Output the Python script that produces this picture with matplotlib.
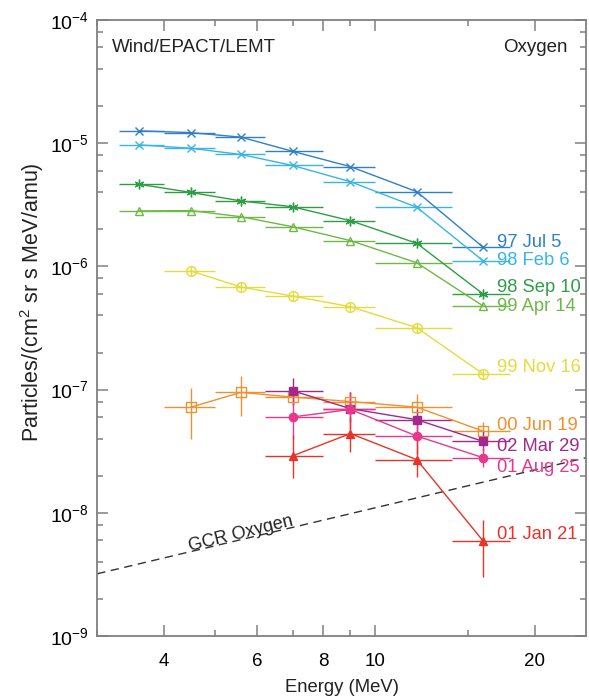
import matplotlib
matplotlib.use("Agg")
import matplotlib.pyplot as plt
import numpy as np
from matplotlib.ticker import FixedLocator, NullFormatter

plt.rcParams['font.family'] = ['Liberation Sans', 'DejaVu Sans']
plt.rcParams['mathtext.fontset'] = 'custom'
plt.rcParams['mathtext.rm'] = 'Liberation Sans'
plt.rcParams['mathtext.it'] = 'Liberation Sans:italic'

# energy bins (MeV)
energy = [3.6, 4.5, 5.6, 7.0, 9.0, 12.0, 16.0]
e_lo = [3.3, 4.0, 5.0, 6.2, 8.0, 10.0, 14.0]
e_hi = [4.0, 5.0, 6.2, 8.0, 10.0, 14.0, 18.0]

# event spectra, particles/(cm2 sr s MeV/amu)
jul97 = [1.26e-5, 1.22e-5, 1.12e-5, 8.6e-6, 6.45e-6, 4.04e-6, 1.43e-6]
feb98 = [9.7e-6, 9.1e-6, 8.1e-6, 6.6e-6, 4.87e-6, 3.02e-6, 1.11e-6]
sep98 = [4.64e-6, 3.99e-6, 3.40e-6, 3.05e-6, 2.35e-6, 1.54e-6, 5.97e-7]
apr99 = [2.82e-6, 2.84e-6, 2.53e-6, 2.10e-6, 1.62e-6, 1.07e-6, 4.77e-7]
nov99 = [9.2e-7, 6.8e-7, 5.75e-7, 4.71e-7, 3.18e-7, 1.34e-7]
jun00 = [7.2e-8, 9.5e-8, 8.7e-8, 8.0e-8, 7.2e-8, 4.6e-8]
jun00_lo = [3.95e-8, 6.1e-8, 7.5e-8, 7.0e-8, 6.0e-8, 3.8e-8]
jun00_hi = [1.03e-7, 1.29e-7, 1.0e-7, 9.5e-8, 9.2e-8, 5.5e-8]
mar02 = [9.8e-8, 7.0e-8, 5.7e-8, 3.8e-8]
mar02_lo = [7.5e-8, 5.5e-8, 4.6e-8, 3.2e-8]
mar02_hi = [1.25e-7, 9.5e-8, 7.0e-8, 4.6e-8]
aug01 = [6.0e-8, 6.9e-8, 4.2e-8, 2.8e-8]
aug01_lo = [4.0e-8, 4.8e-8, 3.0e-8, 2.35e-8]
aug01_hi = [8.5e-8, 9.5e-8, 5.8e-8, 3.4e-8]
jan01 = [2.9e-8, 4.4e-8, 2.7e-8, 5.9e-9]
jan01_lo = [1.9e-8, 3.1e-8, 1.95e-8, 3.0e-9]
jan01_hi = [4.3e-8, 6.0e-8, 3.8e-8, 8.8e-9]

# GCR oxygen reference line
gcr_e = [3.0, 25.0]
gcr_flux = [3.2e-9, 2.8e-8]

labels = ['97 Jul 5', '98 Feb 6', '98 Sep 10', '99 Apr 14', '99 Nov 16',
          '00 Jun 19', '02 Mar 29', '01 Aug 25', '01 Jan 21']
label_y = [1.55e-6, 1.11e-6, 6.8e-7, 4.77e-7, 1.5e-7,
           5.07e-8, 3.48e-8, 2.35e-8, 6.7e-9]
colors = ['#2f80c8', '#38b4e6', '#2e9e45', '#70b845', '#e4dc3c',
          '#f0902e', '#a3288c', '#e6398c', '#e8322a']


def plot_series(ax, start, y, color, marker, mfc, ylo=None, yhi=None, ms=6):
    x = np.array(energy[start:])
    xl = x - np.array(e_lo[start:])
    xh = np.array(e_hi[start:]) - x
    y = np.array(y)
    if ylo is None:
        yerr = None
    else:
        yerr = [y - np.array(ylo), np.array(yhi) - y]
    ax.errorbar(x, y, xerr=[xl, xh], yerr=yerr, color=color, lw=1,
                elinewidth=1, capsize=0, marker=marker, ms=ms,
                mfc=mfc, mec=color, mew=1)


fig = plt.figure(figsize=(5.89, 7.0), dpi=100)
ax = fig.add_axes([0.165, 0.0914, 0.83, 0.8800])

plot_series(ax, 0, jul97, colors[0], 'x', 'none')
plot_series(ax, 0, feb98, colors[1], 'x', 'none')
plot_series(ax, 0, sep98, colors[2], (6, 2, 0), 'none', ms=7)
plot_series(ax, 0, apr99, colors[3], '^', 'none')
plot_series(ax, 1, nov99, colors[4], 'o', 'none', ms=7)
ax.plot(energy[1:], nov99, ls='none', marker='+', ms=7, color=colors[4], mew=1)
plot_series(ax, 1, jun00, colors[5], 's', 'none', jun00_lo, jun00_hi, ms=6.5)
plot_series(ax, 3, mar02, colors[6], 's', colors[6], mar02_lo, mar02_hi)
plot_series(ax, 3, aug01, colors[7], 'o', colors[7], aug01_lo, aug01_hi)
plot_series(ax, 3, jan01, colors[8], '^', colors[8], jan01_lo, jan01_hi)

ax.plot(gcr_e, gcr_flux, ls=(0, (6, 4)), color='#333333', lw=1)
ax.text(5.6, 6.8e-9, 'GCR Oxygen', rotation=14, ha='center', va='center',
        fontsize=13, color='#222222')

for lab, yy, c in zip(labels, label_y, colors):
    ax.text(17.0, yy, lab, color=c, fontsize=13.2, ha='left', va='center',
            clip_on=False)

ax.text(0.03, 0.955, 'Wind/EPACT/LEMT', transform=ax.transAxes,
        fontsize=13.5, color='#222222', ha='left', va='center')
ax.text(0.962, 0.955, 'Oxygen', transform=ax.transAxes,
        fontsize=13.5, color='#222222', ha='right', va='center')

ax.set_xscale('log')
ax.set_yscale('log')
ax.set_xlim(3.0, 25.0)
ax.set_ylim(1e-9, 1e-4)

ax.xaxis.set_major_locator(FixedLocator([4, 6, 8, 10, 20]))
ax.xaxis.set_minor_locator(FixedLocator([3, 5, 7, 9, 15]))
ax.set_xticklabels(['4', '6', '8', '10', '20'])
ax.xaxis.set_minor_formatter(NullFormatter())

yt = [1e-9, 1e-8, 1e-7, 1e-6, 1e-5, 1e-4]
ax.yaxis.set_major_locator(FixedLocator(yt))
ax.set_yticklabels([r'$10^{-9}$', r'$10^{-8}$', r'$10^{-7}$', r'$10^{-6}$',
                    r'$10^{-5}$', r'$10^{-4}$'])
ymin = [m * d for d in [1e-9, 1e-8, 1e-7, 1e-6, 1e-5] for m in (2, 4, 6, 8)]
ax.yaxis.set_minor_locator(FixedLocator(ymin))
ax.yaxis.set_minor_formatter(NullFormatter())

for s in ax.spines.values():
    s.set_color('#808080')
    s.set_linewidth(1.3)
ax.tick_params(which='both', direction='in', top=True, right=True,
               color='#808080', width=1.1)
ax.tick_params(which='major', length=8, labelsize=13.5, pad=12)
ax.tick_params(which='minor', length=4)
ax.tick_params(axis='y', which='major', labelsize=14, pad=6)

ax.set_xlabel('Energy (MeV)', fontsize=13.3, color='#222222', labelpad=7)
ax.set_ylabel('Particles/(cm$^2$ sr s MeV/amu)', fontsize=15.5,
              color='#222222')
ax.yaxis.set_label_coords(-0.104, 0.542)

fig.savefig('out.png', dpi=100)
